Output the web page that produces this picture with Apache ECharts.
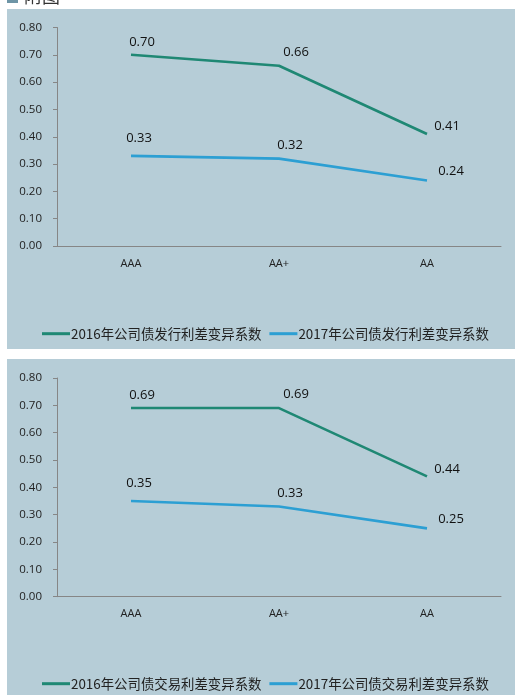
<!DOCTYPE html>
<html>
<head>
<meta charset="utf-8">
<script src="https://cdn.jsdelivr.net/npm/echarts@6/dist/echarts.min.js"></script>
<style>
html,body{margin:0;padding:0;background:#fff;}
#c{width:515px;height:695px;}
</style>
</head>
<body>
<div id="c"></div>
<script>
const categories = ['AAA', 'AA+', 'AA'];
const yTicks = [0, 0.1, 0.2, 0.3, 0.4, 0.5, 0.6, 0.7, 0.8];
const issue2016 = [0.70, 0.66, 0.41];
const issue2017 = [0.33, 0.32, 0.24];
const trade2016 = [0.69, 0.69, 0.44];
const trade2017 = [0.35, 0.33, 0.25];
const names = {
  issue2016: '2016年公司债发行利差变异系数',
  issue2017: '2017年公司债发行利差变异系数',
  trade2016: '2016年公司债交易利差变异系数',
  trade2017: '2017年公司债交易利差变异系数'
};

// label placement (style only)
const greenOff = [[11, -1], [17, -2], [20, 4]];
const blueOff = [[8, -6], [11, -2], [24, 2]];
const GREEN = '#1f8874';
const BLUE = '#2c9fd3';
const PANEL = '#b6cdd7';
const AXIS = '#868686';
const NUMFONT = '"Open Sans", "Noto Sans", sans-serif';
const CJK = '"Noto Sans CJK SC", sans-serif';

const grids = [
  { left: 57, right: 14, top: 27.5, height: 218.5 },
  { left: 57, right: 14, top: 378, height: 218.7 }
];

function xAx(i) {
  return {
    type: 'category', gridIndex: i, data: categories, boundaryGap: true,
    axisLine: { lineStyle: { color: AXIS, width: 1 } },
    axisTick: { inside: true, length: 4, lineStyle: { color: AXIS } },
    axisLabel: { color: '#222', fontSize: 11, fontFamily: NUMFONT, margin: 12 }
  };
}
function yAx(i) {
  return {
    type: 'value', gridIndex: i, min: 0, max: 0.8, interval: 0.1,
    axisLine: { show: true, lineStyle: { color: AXIS, width: 1 } },
    axisTick: { show: true, length: 4, lineStyle: { color: AXIS } },
    splitLine: { show: false },
    axisLabel: { color: '#222', fontSize: 11.5, fontFamily: NUMFONT, margin: 15,
      formatter: v => v.toFixed(2) }
  };
}
function line(name, vals, offs, color, i) {
  return {
    name, type: 'line', xAxisIndex: i, yAxisIndex: i, data: vals,
    symbol: 'circle', symbolSize: 0.01, showSymbol: true,
    lineStyle: { color, width: 2.6 }, itemStyle: { color },
    label: { show: true, position: 'top', color: '#111', fontSize: 13, fontFamily: NUMFONT,
      formatter: p => Number(p.value).toFixed(2) },
    labelLayout: p => ({ dx: offs[p.dataIndex][0], dy: offs[p.dataIndex][1], hideOverlap: false }),
    z: 3
  };
}
function legend(y, a, b) {
  return {
    top: y, left: 37, itemWidth: 28, itemHeight: 3, itemGap: 8, icon: 'rect',
    data: [a, b],
    textStyle: { color: '#222', fontSize: 13.4, fontFamily: CJK, padding: [0, 0, 0, -4] }
  };
}

const chart = echarts.init(document.getElementById('c'));
chart.setOption({
  animation: false,
  graphic: [
    { type: 'rect', shape: { x: 7, y: 9, width: 508, height: 340 }, style: { fill: PANEL }, z: -10 },
    { type: 'rect', shape: { x: 7, y: 359, width: 508, height: 340 }, style: { fill: PANEL }, z: -10 },
    { type: 'rect', shape: { x: 7, y: -8, width: 11, height: 11 }, style: { fill: '#6e95a6' }, z: -10 },
    { type: 'text', style: { x: 24, y: 5, text: '附图', fill: '#333', font: '18px "Noto Sans CJK SC"', textVerticalAlign: 'bottom' } }
  ],
  grid: grids,
  xAxis: [xAx(0), xAx(1)],
  yAxis: [yAx(0), yAx(1)],
  legend: [legend(322, names.issue2016, names.issue2017), legend(672, names.trade2016, names.trade2017)],
  series: [
    line(names.issue2016, issue2016, greenOff, GREEN, 0),
    line(names.issue2017, issue2017, blueOff, BLUE, 0),
    line(names.trade2016, trade2016, greenOff, GREEN, 1),
    line(names.trade2017, trade2017, blueOff, BLUE, 1)
  ]
});
</script>
</body>
</html>
